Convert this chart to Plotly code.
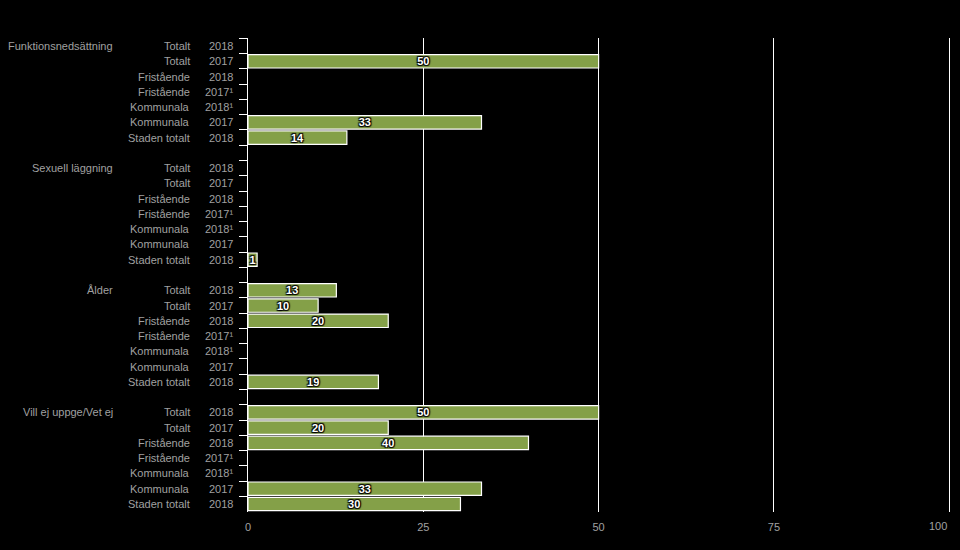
import plotly.graph_objects as go

groups = ["Funktionsnedsättning", "Sexuell läggning", "Ålder", "Vill ej uppge/Vet ej"]
units = ["Totalt", "Totalt", "Fristående", "Fristående", "Kommunala", "Kommunala", "Staden totalt"]
years = ["2018", "2017", "2018", "2017¹", "2018¹", "2017", "2018"]

funktion = [None, 50, None, None, None, 33.3, 14.1]
sexuell = [None, None, None, None, None, None, 1.3]
alder = [12.6, 10, 20, None, None, None, 18.6]
villej = [50, 20, 40, None, None, 33.3, 30.3]
series = [funktion, sexuell, alder, villej]

x_ticks = [0, 25, 50, 75, 100]
x_tick_labels = ["0", "25", "50", "75", "100"]

cats, vals, texts = [], [], []
label_rows = []
for gi, (g, vs) in enumerate(zip(groups, series)):
    for ri, (u, yr, v) in enumerate(zip(units, years, vs)):
        key = f"{g}|{u}|{yr}|{ri}"
        cats.append(key)
        vals.append(v)
        texts.append("" if v is None else str(int(round(v))))
        label_rows.append((key, g if ri == 0 else None, u, yr))
    if gi < len(groups) - 1:
        cats.append(" " * (gi + 1))
        vals.append(None)
        texts.append("")

FONT = "Liberation Sans, Arial, sans-serif"
GREY = "#a0a0a0"

fig = go.Figure()
fig.add_trace(go.Bar(
    y=cats, x=vals, orientation="h",
    marker=dict(color="#84a048", line=dict(color="white", width=1.2)),
    text=texts, textposition="inside", insidetextanchor="middle",
    textangle=0, constraintext="none", cliponaxis=False,
    textfont=dict(family=FONT, size=11, color="white", weight="bold",
                  shadow="1px 1px 1px #000, -1px -1px 1px #000, 1px -1px 1px #000, -1px 1px 1px #000"),
    hoverinfo="skip", showlegend=False,
))

annotations = []
for key, g, u, yr in label_rows:
    annotations.append(dict(x=0, xref="paper", y=key, yref="y", text=yr, showarrow=False,
                            xanchor="right", xshift=-13, font=dict(family=FONT, size=11, color=GREY)))
    annotations.append(dict(x=0, xref="paper", y=key, yref="y", text=u, showarrow=False,
                            xanchor="right", xshift=-56, font=dict(family=FONT, size=11, color=GREY)))
    if g:
        annotations.append(dict(x=0, xref="paper", y=key, yref="y", text=g, showarrow=False,
                                xanchor="right", xshift=-133, font=dict(family=FONT, size=11, color=GREY)))

# last x tick label is right-aligned to the plot edge, as in the reference
annotations.append(dict(x=x_ticks[-1], xref="x", y=0, yref="paper", yanchor="top", xanchor="right",
                        yshift=-6, text=x_tick_labels[-1], showarrow=False,
                        font=dict(family=FONT, size=11, color=GREY)))
shown_tick_text = x_tick_labels[:-1] + [""]

fig.update_layout(
    width=960, height=550,
    paper_bgcolor="black", plot_bgcolor="black",
    margin=dict(l=248, r=8, t=38, b=38, autoexpand=False),
    bargap=0.12,
    annotations=annotations,
    xaxis=dict(range=[0, 100.4], tickvals=x_ticks, ticktext=shown_tick_text, showgrid=True,
               gridcolor="white", gridwidth=1, automargin=False,
               zeroline=False, showline=False, ticks="outside", ticklen=5, tickcolor="rgba(0,0,0,0)",
               tickfont=dict(family=FONT, size=11, color=GREY), fixedrange=True),
    yaxis=dict(categoryorder="array", categoryarray=cats, autorange="reversed", automargin=False,
               showticklabels=False, tickson="boundaries", ticks="outside", ticklen=8,
               tickcolor="white", tickwidth=1, showline=True, linecolor="white", linewidth=1,
               showgrid=False, fixedrange=True),
)

fig.write_html("out.html", config={"displayModeBar": False},
               post_script="document.body.style.margin='0';document.body.style.background='black';document.body.style.overflow='hidden';")
